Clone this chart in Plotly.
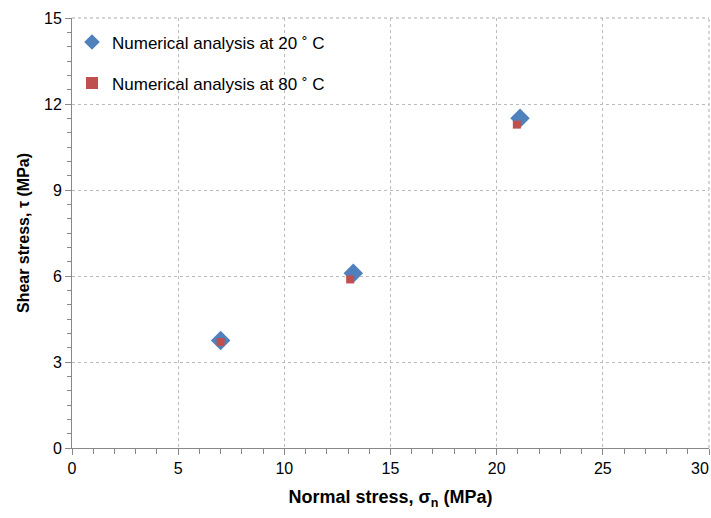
import plotly.graph_objects as go

x20 = [7.0, 13.25, 21.1]
y20 = [3.75, 6.1, 11.5]
x80 = [7.0, 13.1, 20.95]
y80 = [3.7, 5.88, 11.28]
name20 = "Numerical analysis at 20 ˚ C"
name80 = "Numerical analysis at 80 ˚ C"
x_ticks = [0, 5, 10, 15, 20, 25, 30]
x_ticktext = ["0", "5", "10", "15", "20", "25", ""]
x_last_tick = [30]
x_last_text = ["30"]
y_ticks = [0, 3, 6, 9, 12, 15]

FONT = "Liberation Sans, Arial"

fig = go.Figure()
fig.add_trace(go.Scatter(x=x20, y=y20, mode="markers", name=name20, legendgroup="a",
                         marker=dict(symbol="diamond", size=15, color="#4F81BD")))
fig.add_trace(go.Scatter(x=x80, y=y80, mode="markers", name=name80, legendgroup="b",
                         marker=dict(symbol="square", size=8, color="#C0504D")))
# invisible helper trace so the overlay axis carrying the last tick label is drawn
fig.add_trace(go.Scatter(x=x_last_tick, y=[0], xaxis="x2", mode="markers", showlegend=False,
                         hoverinfo="skip", marker=dict(opacity=0)))

axis_common = dict(
    showgrid=True, gridcolor="#BBBBBB", griddash="dot", gridwidth=1,
    showline=True, linecolor="#888888", linewidth=1, mirror=False,
    ticks="outside", ticklen=6, tickcolor="#888888",
    tickfont=dict(family=FONT, size=16, color="black"),
    zeroline=False, ticklabeloverflow="allow",
)
fig.update_xaxes(range=[0, 30], tickvals=x_ticks, ticktext=x_ticktext,
                 minor=dict(dtick=1, ticks="outside", ticklen=5, tickcolor="#888888", showgrid=False),
                 title=dict(text="<b>Normal stress, σ<sub>n</sub> (MPa)</b>",
                            font=dict(family=FONT, size=18, color="black"), standoff=14),
                 **axis_common)
fig.update_yaxes(range=[0, 15], tickvals=y_ticks,
                 minor=dict(dtick=0.5, ticks="outside", ticklen=4, tickcolor="#888888", showgrid=False),
                 title=dict(text="<b>Shear stress, τ (MPa)</b>",
                            font=dict(family=FONT, size=16, color="black"), standoff=10),
                 **axis_common)
fig.update_layout(xaxis2=dict(overlaying="x", side="bottom", range=[0, 30], tickvals=x_last_tick,
                              ticktext=x_last_text, showgrid=False, showline=False, zeroline=False,
                              ticks="outside", ticklen=6, tickcolor="rgba(0,0,0,0)",
                              tickfont=dict(family=FONT, size=16, color="black"),
                              ticklabelshift=-9, ticklabeloverflow="allow"))
# top and right borders drawn as dotted lines like the grid
fig.add_shape(type="line", xref="paper", yref="paper", x0=0, x1=1, y0=1, y1=1,
              line=dict(color="#AAAAAA", width=1, dash="dot"))
fig.add_shape(type="line", xref="paper", yref="paper", x0=1, x1=1, y0=0, y1=1,
              line=dict(color="#AAAAAA", width=1, dash="dot"))

fig.update_layout(
    width=711, height=518,
    margin=dict(l=72, r=2, t=18, b=70, autoexpand=False),
    plot_bgcolor="white", paper_bgcolor="white",
    font=dict(family=FONT, size=16, color="black"),
    legend=dict(x=0.0, y=0.985, xanchor="left", yanchor="top", bgcolor="rgba(255,255,255,0)",
                font=dict(family=FONT, size=17, color="black"),
                tracegroupgap=16, itemwidth=30, itemsizing="constant"),
    showlegend=True,
)
fig.write_html("out.html", config={"displayModeBar": False},
               post_script="document.body.style.margin='0';document.body.style.overflow='hidden';")
